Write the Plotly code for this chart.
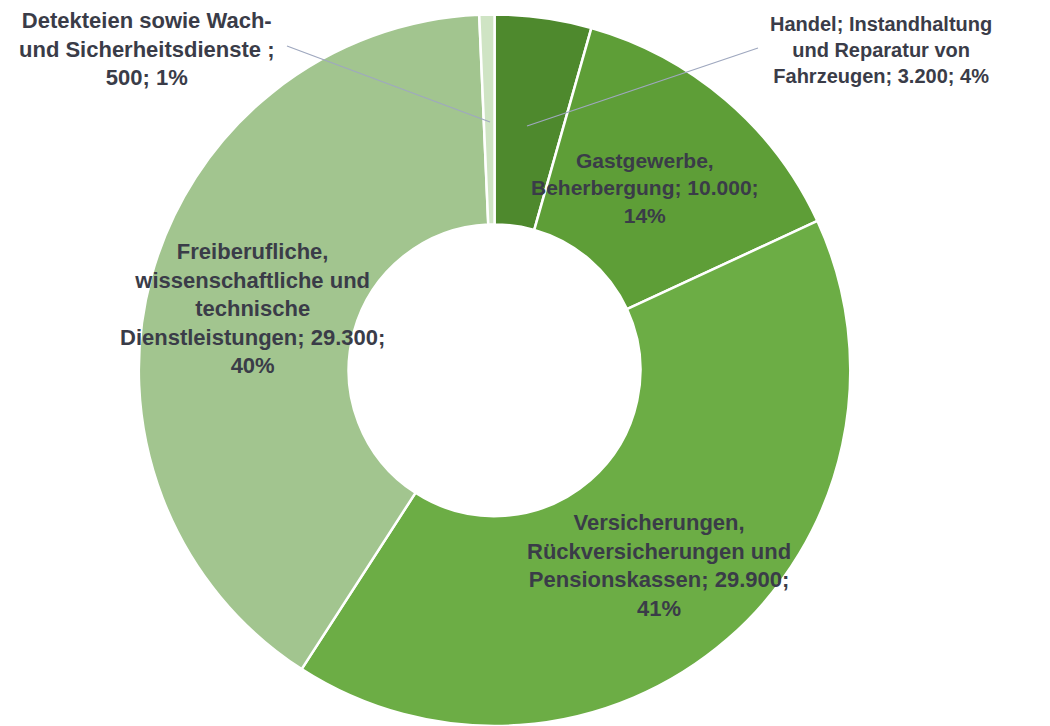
import plotly.graph_objects as go

categories = [
    "Handel; Instandhaltung und Reparatur von Fahrzeugen",
    "Gastgewerbe, Beherbergung",
    "Versicherungen, Rückversicherungen und Pensionskassen",
    "Freiberufliche, wissenschaftliche und technische Dienstleistungen",
    "Detekteien sowie Wach- und Sicherheitsdienste",
]
values = [3200, 10000, 29900, 29300, 500]
value_labels = ["3.200", "10.000", "29.900", "29.300", "500"]
percent_labels = ["4%", "14%", "41%", "40%", "1%"]
colors = ["#4e892d", "#5e9e37", "#6cad45", "#a2c58f", "#cfe4c4"]

label_texts = [
    "Handel; Instandhaltung<br>und Reparatur von<br>Fahrzeugen; {v}; {p}",
    "Gastgewerbe,<br>Beherbergung; {v};<br>{p}",
    "Versicherungen,<br>Rückversicherungen und<br>Pensionskassen; {v};<br>{p}",
    "Freiberufliche,<br>wissenschaftliche und<br>technische<br>Dienstleistungen; {v};<br>{p}",
    "Detekteien sowie Wach-<br>und Sicherheitsdienste ;<br>{v}; {p}",
]
label_pos_px = [(881, 50), (645, 188), (659, 565), (252, 308), (147, 49)]
label_sizes = [20, 21, 22, 22, 22]

W, H = 1050, 726

fig = go.Figure()
fig.add_trace(go.Pie(
    labels=categories,
    values=values,
    sort=False,
    direction="clockwise",
    rotation=0,
    hole=0.41,
    textinfo="none",
    hoverinfo="none",
    marker=dict(colors=colors, line=dict(color="white", width=2.5)),
    domain=dict(x=[0.121, 0.821], y=[0.0, 0.98]),
    showlegend=False,
))

for tmpl, v, p, (px, py), fs in zip(label_texts, value_labels, percent_labels, label_pos_px, label_sizes):
    fig.add_annotation(
        text="<b>" + tmpl.format(v=v, p=p) + "</b>",
        x=px / W, y=1 - py / H, xref="paper", yref="paper",
        xanchor="center", yanchor="middle", align="center",
        showarrow=False,
        font=dict(family="Liberation Sans, Arial, sans-serif", size=fs, color="#3a3c48"),
    )

# leader lines
for (x0, y0, x1, y1) in [(758, 48, 527, 126), (287, 46, 490, 122)]:
    fig.add_shape(type="line", xref="paper", yref="paper",
                  x0=x0 / W, y0=1 - y0 / H, x1=x1 / W, y1=1 - y1 / H,
                  line=dict(color="#9fa8bf", width=1.3))

fig.update_layout(
    width=W, height=H,
    margin=dict(l=0, r=0, t=0, b=0),
    paper_bgcolor="white", plot_bgcolor="white",
)
fig.write_html("out.html")
